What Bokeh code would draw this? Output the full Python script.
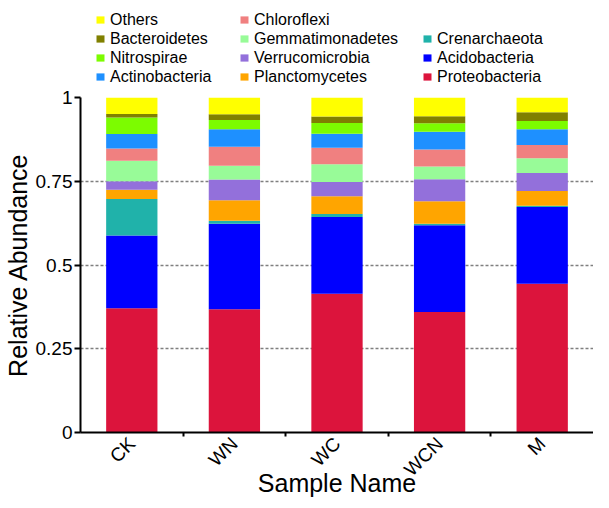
from math import pi
from bokeh.plotting import figure
from bokeh.layouts import column
from bokeh.models import ColumnDataSource, Range1d, FixedTicker, Legend, LegendItem
from bokeh.embed import file_html
from bokeh.resources import INLINE

samples = ["CK", "WN", "WC", "WCN", "M"]

Proteobacteria   = [0.371, 0.368, 0.414, 0.360, 0.444]
Acidobacteria    = [0.217, 0.255, 0.229, 0.259, 0.229]
Crenarchaeota    = [0.109, 0.009, 0.009, 0.004, 0.004]
Planctomycetes   = [0.028, 0.061, 0.053, 0.067, 0.044]
Verrucomicrobia  = [0.025, 0.062, 0.043, 0.066, 0.054]
Gemmatimonadetes = [0.061, 0.041, 0.053, 0.038, 0.044]
Chloroflexi      = [0.037, 0.057, 0.049, 0.051, 0.039]
Actinobacteria   = [0.043, 0.052, 0.042, 0.053, 0.047]
Nitrospirae      = [0.049, 0.028, 0.032, 0.025, 0.025]
Bacteroidetes    = [0.011, 0.017, 0.019, 0.021, 0.026]
Others           = [0.049, 0.050, 0.057, 0.056, 0.044]

phyla = ["Proteobacteria", "Acidobacteria", "Crenarchaeota", "Planctomycetes",
         "Verrucomicrobia", "Gemmatimonadetes", "Chloroflexi", "Actinobacteria",
         "Nitrospirae", "Bacteroidetes", "Others"]
colors = ["#DC143C", "#0000FF", "#20B2AA", "#FFA500", "#9370DB", "#98FB98",
          "#F08080", "#1E90FF", "#7CFC00", "#808000", "#FFFF00"]

y_ticks = [0, 0.25, 0.5, 0.75, 1]
y_tick_labels = ["0", "0.25", "0.5", "0.75", "1"]

legend_col1 = ["Others", "Bacteroidetes", "Nitrospirae", "Actinobacteria"]
legend_col2 = ["Chloroflexi", "Gemmatimonadetes", "Verrucomicrobia", "Planctomycetes"]
legend_col3 = ["Crenarchaeota", "Acidobacteria", "Proteobacteria"]

values = {
    "Proteobacteria": Proteobacteria, "Acidobacteria": Acidobacteria,
    "Crenarchaeota": Crenarchaeota, "Planctomycetes": Planctomycetes,
    "Verrucomicrobia": Verrucomicrobia, "Gemmatimonadetes": Gemmatimonadetes,
    "Chloroflexi": Chloroflexi, "Actinobacteria": Actinobacteria,
    "Nitrospirae": Nitrospirae, "Bacteroidetes": Bacteroidetes, "Others": Others,
}
color_of = dict(zip(phyla, colors))

xpos = [i + 0.5 for i in range(len(samples))]
data = dict(x=xpos, sample=samples)
data.update(values)
source = ColumnDataSource(data)

FONT = "Liberation Sans"
W = 593
LEG_H = 86
MAIN_H = 500 - LEG_H

# ---------- legend strip ----------
lf = figure(width=W, height=LEG_H, output_backend="svg", toolbar_location=None,
            x_axis_type=None, y_axis_type=None,
            x_range=Range1d(0, 1), y_range=Range1d(0, 1),
            min_border_left=78, min_border_right=0,
            min_border_top=0, min_border_bottom=0)
lf.outline_line_color = None
lf.xgrid.visible = False
lf.ygrid.visible = False

def make_legend(names, x_off):
    items = []
    for name in names:
        # zero-height swatch carrier, draws nothing in the strip itself
        r = lf.vbar(x=[0], top=[0], width=0, fill_color=color_of[name], line_color=None)
        items.append(LegendItem(label=name, renderers=[r]))
    lg = Legend(items=items, orientation="vertical", location=(x_off, 0),
                label_text_font=FONT, label_text_font_size="16px",
                label_text_color="black", glyph_width=10, glyph_height=9,
                label_standoff=5, label_height=19, spacing=0, padding=0,
                margin=0, border_line_color=None, background_fill_alpha=0)
    lf.add_layout(lg, "center")

make_legend(legend_col1, 15)
make_legend(legend_col2, 159)
make_legend(legend_col3, 342)

# ---------- main chart ----------
p = figure(width=W, height=MAIN_H, output_backend="svg", toolbar_location=None,
           x_range=Range1d(0, len(samples)), y_range=Range1d(0, 1),
           min_border_left=78, min_border_right=0, min_border_top=11,
           min_border_bottom=68)
p.outline_line_color = None

p.vbar_stack(phyla, x="x", width=0.5, color=colors, source=source, line_color=None)

p.xgrid.visible = False
p.ygrid.ticker = FixedTicker(ticks=[0.25, 0.5, 0.75])
p.ygrid.grid_line_color = "#7f7f7f"
p.ygrid.grid_line_dash = "3 2"
p.ygrid.grid_line_width = 1.3

yax = p.yaxis[0]
yax.ticker = FixedTicker(ticks=y_ticks)
yax.major_label_overrides = dict(zip(y_ticks, y_tick_labels))
yax.axis_label = "Relative Abundance"
yax.axis_label_text_font = FONT
yax.axis_label_text_font_size = "25px"
yax.axis_label_text_font_style = "normal"
yax.axis_label_text_color = "black"
yax.axis_label_standoff = 1
yax.major_label_text_font = FONT
yax.major_label_text_font_size = "19px"
yax.major_label_text_color = "black"
yax.major_label_standoff = 2
yax.axis_line_width = 2
yax.axis_line_color = "black"
yax.major_tick_line_width = 2
yax.major_tick_out = 6
yax.major_tick_in = 0
yax.minor_tick_line_color = None

xax = p.xaxis[0]
xax.ticker = FixedTicker(ticks=xpos, minor_ticks=[1, 2, 3, 4])
xax.major_label_overrides = dict(zip(xpos, samples))
xax.major_label_orientation = pi / 4
xax.axis_label = "Sample Name"
xax.axis_label_text_font = FONT
xax.axis_label_text_font_size = "25px"
xax.axis_label_text_font_style = "normal"
xax.axis_label_text_color = "black"
xax.axis_label_standoff = -21
xax.major_label_text_font = FONT
xax.major_label_text_font_size = "19px"
xax.major_label_text_color = "black"
xax.major_label_standoff = 2
xax.axis_line_width = 2
xax.axis_line_color = "black"
xax.major_tick_line_color = None
xax.minor_tick_line_color = "black"
xax.minor_tick_line_width = 2
xax.minor_tick_out = 4
xax.minor_tick_in = 0

layout = column(lf, p, spacing=0)
open("out.html", "w").write(file_html(layout, INLINE))
